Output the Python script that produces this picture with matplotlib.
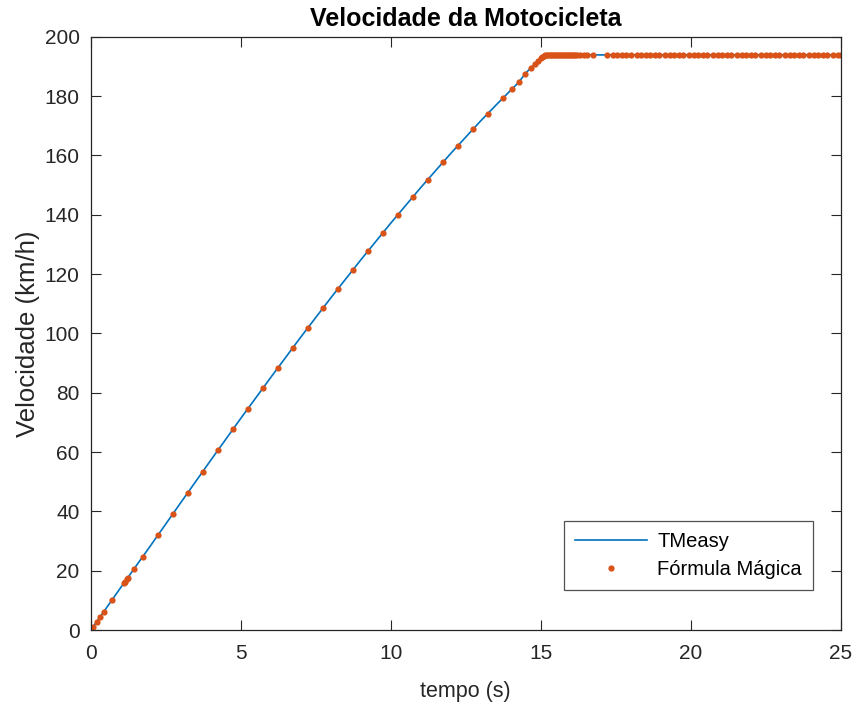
import numpy as np
import matplotlib
matplotlib.use("Agg")
import matplotlib.pyplot as plt

plt.rcParams['font.family'] = ['Liberation Sans', 'DejaVu Sans']

# TMeasy curve (tempo s, velocidade km/h)
tm_t = [0, 0.7, 1, 2, 3, 4, 5, 6, 7, 8, 9, 10, 11, 12, 13, 13.5, 14,
        14.25, 14.5, 14.75, 15, 15.1, 15.2, 25]
tm_v = [0, 10.1, 14.4, 28.6, 43.0, 57.3, 71.4, 85.2, 98.8, 112.0, 124.8,
        137.2, 149.2, 160.7, 171.7, 176.9, 182.0, 184.5, 187.8, 190.3,
        192.8, 193.5, 193.9, 193.9]

# Formula Magica points
fm_t = [0, 0.07, 0.2, 0.3, 0.43, 0.70, 1.1, 1.13, 1.2, 1.23, 1.43, 1.73,
        2.23, 2.73, 3.23, 3.73, 4.23, 4.73, 5.23, 5.73, 6.23, 6.73, 7.23,
        7.73, 8.23, 8.73, 9.23, 9.73, 10.23, 10.73, 11.23, 11.73, 12.23,
        12.73, 13.23, 13.73, 14.03, 14.27, 14.47, 14.67, 14.8, 14.9, 15.0,
        15.05, 15.1, 15.15, 15.2,
        15.25, 15.3, 15.35, 15.4, 15.45, 15.5, 15.55, 15.6, 15.65, 15.7,
        15.75, 15.8, 15.85, 15.9, 15.95, 16.0, 16.05, 16.1, 16.15, 16.2,
        16.3, 16.45, 16.55, 16.75, 17.2, 17.4, 17.55, 17.7, 17.85, 18.0,
        18.2, 18.35, 18.5, 18.65, 18.8, 18.95, 19.15, 19.3, 19.45, 19.6,
        19.75, 19.95, 20.1, 20.25, 20.4, 20.55, 20.75, 20.9, 21.05, 21.2,
        21.35, 21.55, 21.7, 21.85, 22.0, 22.15, 22.35, 22.5, 22.65, 22.8,
        22.95, 23.15, 23.3, 23.45, 23.6, 23.75, 23.95, 24.1, 24.25, 24.4,
        24.55, 24.75, 24.9, 25.0]
fm_v = [0, 1.0, 2.9, 4.3, 6.2, 10.1, 15.8, 16.2, 17.2, 17.6, 20.5, 24.8,
        31.9, 39.1, 46.3, 53.4, 60.6, 67.7, 74.6, 81.5, 88.4, 95.2, 101.9,
        108.5, 115.0, 121.4, 127.7, 133.9, 140.0, 146.0, 151.9, 157.7, 163.3,
        168.8, 174.1, 179.3, 182.3, 184.7, 187.5, 189.5, 190.9, 191.9, 192.8,
        193.2, 193.5, 193.8, 193.9]
fm_v = fm_v + [193.9] * (len(fm_t) - len(fm_v))

fig = plt.figure(figsize=(8.57, 7.08), dpi=100)
ax = fig.add_axes([0.106, 0.110, 0.875, 0.838])

ax.plot(tm_t, tm_v, color='#0072BD', lw=1.2, label='TMeasy')
ax.plot(fm_t, fm_v, ls='none', marker='o', ms=4.5, mec='none',
        color='#D95319', label='Fórmula Mágica')

ax.set_xlim(0, 25)
ax.set_ylim(0, 200)
ax.set_xticks([0, 5, 10, 15, 20, 25])
ax.set_yticks(np.arange(0, 201, 20))
ax.tick_params(direction='in', length=7, width=0.8, top=True, right=True,
               labelsize=15, colors='#262626')
ax.tick_params(axis='x', pad=10)
ax.tick_params(axis='y', pad=8)
for s in ax.spines.values():
    s.set_color('#262626')
    s.set_linewidth(0.9)

ax.set_xlabel('tempo (s)', fontsize=15.5, color='#262626', labelpad=13)
ax.set_ylabel('Velocidade (km/h)', fontsize=18.5, color='#262626', labelpad=3)
ax.set_title('Velocidade da Motocicleta', fontsize=18, fontweight='bold', pad=8)

leg = ax.legend(loc='lower right', bbox_to_anchor=(0.963, 0.0675),
                borderaxespad=0, fontsize=14.5, fancybox=False,
                edgecolor='#262626', handlelength=3.6,
                borderpad=0.55, labelspacing=0.45, handletextpad=0.5)
leg.get_frame().set_linewidth(0.9)

fig.savefig('out.png', dpi=100)
